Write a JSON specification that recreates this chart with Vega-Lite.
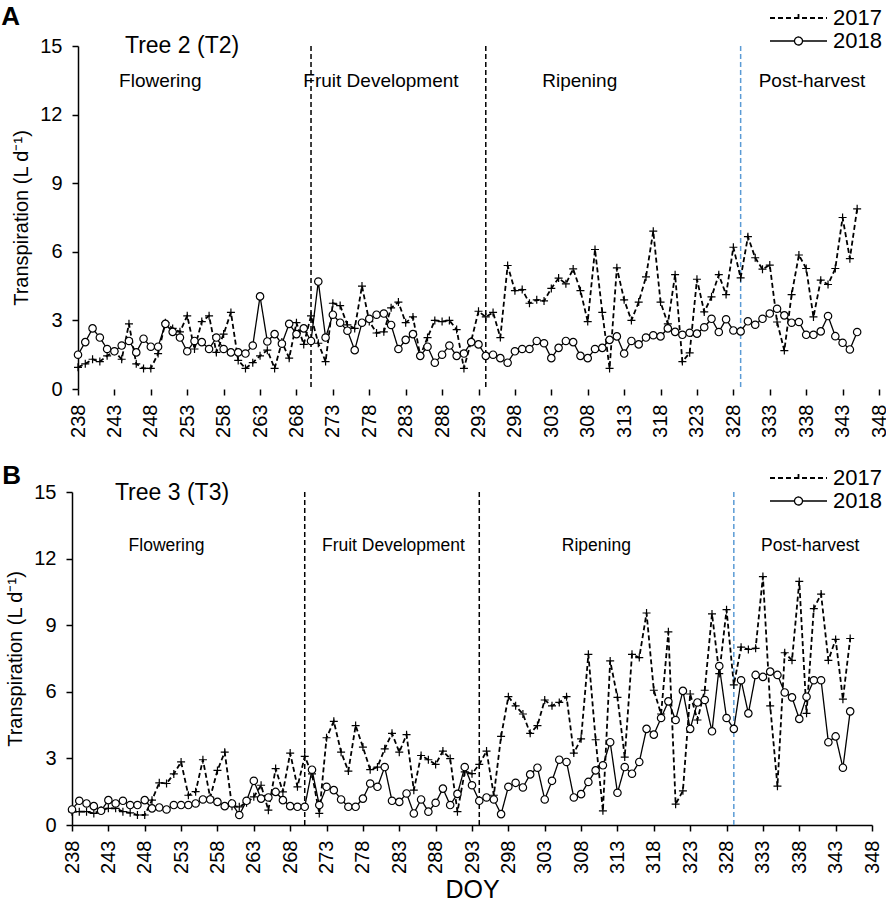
{
  "$schema": "https://vega.github.io/schema/vega-lite/v6.json",
  "background": "white",
  "padding": {"left": 1, "top": 3, "right": 4, "bottom": 4},
  "config": {
    "font": "Liberation Sans",
    "view": {"stroke": null},
    "axis": {
      "grid": false,
      "labelFont": "Liberation Sans",
      "labelFontSize": 20,
      "labelColor": "#000",
      "domainColor": "#000",
      "domainWidth": 1.5,
      "tickColor": "#000",
      "tickWidth": 1.5,
      "tickSize": 6,
      "titleFont": "Liberation Sans",
      "titleFontWeight": "normal",
      "titleColor": "#000"
    },
    "legend": {"labelFont": "Liberation Sans"}
  },
  "datasets": {
    "T2": [
      {"doy":238,"2017":0.95,"2018":1.5},{"doy":239,"2017":1.1,"2018":2.05},{"doy":240,"2017":1.3,"2018":2.65},{"doy":241,"2017":1.2,"2018":2.25},{"doy":242,"2017":1.45,"2018":1.75},{"doy":243,"2017":1.65,"2018":1.65},{"doy":244,"2017":1.3,"2018":1.9},{"doy":245,"2017":2.85,"2018":2.1},{"doy":246,"2017":1.1,"2018":1.6},{"doy":247,"2017":0.9,"2018":2.2},{"doy":248,"2017":0.9,"2018":1.85},{"doy":249,"2017":1.55,"2018":1.85},{"doy":250,"2017":2.9,"2018":2.85},{"doy":251,"2017":2.65,"2018":2.5},{"doy":252,"2017":2.5,"2018":2.25},{"doy":253,"2017":3.2,"2018":1.65},{"doy":254,"2017":1.75,"2018":2.1},{"doy":255,"2017":2.95,"2018":2.05},{"doy":256,"2017":3.2,"2018":1.75},{"doy":257,"2017":1.6,"2018":2.25},{"doy":258,"2017":2.4,"2018":1.75},{"doy":259,"2017":3.35,"2018":1.6},{"doy":260,"2017":1.25,"2018":1.6},{"doy":261,"2017":0.9,"2018":1.55},{"doy":262,"2017":1.15,"2018":1.9},{"doy":263,"2017":1.45,"2018":4.05},{"doy":264,"2017":1.7,"2018":2.08},{"doy":265,"2017":0.9,"2018":2.4},{"doy":266,"2017":2.05,"2018":1.98},{"doy":267,"2017":1.35,"2018":2.85},{"doy":268,"2017":2.9,"2018":2.4},{"doy":269,"2017":1.95,"2018":2.65},{"doy":270,"2017":3.2,"2018":2.1},{"doy":271,"2017":2.0,"2018":4.7},{"doy":272,"2017":1.2,"2018":2.25},{"doy":273,"2017":3.75,"2018":3.25},{"doy":274,"2017":3.65,"2018":2.9},{"doy":275,"2017":2.8,"2018":2.55},{"doy":276,"2017":2.65,"2018":1.7},{"doy":277,"2017":4.5,"2018":2.9},{"doy":278,"2017":2.95,"2018":3.07},{"doy":279,"2017":2.45,"2018":3.25},{"doy":280,"2017":2.5,"2018":3.3},{"doy":281,"2017":3.55,"2018":2.8},{"doy":282,"2017":3.8,"2018":1.75},{"doy":283,"2017":2.9,"2018":2.15},{"doy":284,"2017":3.15,"2018":2.4},{"doy":285,"2017":1.45,"2018":1.45},{"doy":286,"2017":2.25,"2018":1.85},{"doy":287,"2017":3.0,"2018":1.15},{"doy":288,"2017":2.95,"2018":1.5},{"doy":289,"2017":3.0,"2018":1.9},{"doy":290,"2017":2.6,"2018":1.45},{"doy":291,"2017":0.9,"2018":1.55},{"doy":292,"2017":2.1,"2018":2.05},{"doy":293,"2017":3.4,"2018":1.95},{"doy":294,"2017":3.15,"2018":1.45},{"doy":295,"2017":3.35,"2018":1.5},{"doy":296,"2017":2.25,"2018":1.35},{"doy":297,"2017":5.4,"2018":1.15},{"doy":298,"2017":4.3,"2018":1.65},{"doy":299,"2017":4.35,"2018":1.75},{"doy":300,"2017":3.75,"2018":1.75},{"doy":301,"2017":3.9,"2018":2.1},{"doy":302,"2017":3.85,"2018":2.0},{"doy":303,"2017":4.4,"2018":1.35},{"doy":304,"2017":4.85,"2018":1.8},{"doy":305,"2017":4.6,"2018":2.1},{"doy":306,"2017":5.25,"2018":2.05},{"doy":307,"2017":4.3,"2018":1.45},{"doy":308,"2017":2.95,"2018":1.35},{"doy":309,"2017":6.1,"2018":1.75},{"doy":310,"2017":3.35,"2018":1.8},{"doy":311,"2017":0.9,"2018":2.15},{"doy":312,"2017":5.3,"2018":2.3},{"doy":313,"2017":3.9,"2018":1.55},{"doy":314,"2017":3.0,"2018":2.1},{"doy":315,"2017":3.8,"2018":1.95},{"doy":316,"2017":4.9,"2018":2.25},{"doy":317,"2017":6.9,"2018":2.35},{"doy":318,"2017":3.8,"2018":2.3},{"doy":319,"2017":2.85,"2018":2.65},{"doy":320,"2017":5.0,"2018":2.5},{"doy":321,"2017":1.2,"2018":2.37},{"doy":322,"2017":1.58,"2018":2.46},{"doy":323,"2017":4.8,"2018":2.42},{"doy":324,"2017":3.37,"2018":2.7},{"doy":325,"2017":4.03,"2018":3.07},{"doy":326,"2017":5.0,"2018":2.49},{"doy":327,"2017":4.13,"2018":3.05},{"doy":328,"2017":6.2,"2018":2.56},{"doy":329,"2017":4.86,"2018":2.52},{"doy":330,"2017":6.66,"2018":2.96},{"doy":331,"2017":5.74,"2018":2.81},{"doy":332,"2017":5.24,"2018":3.07},{"doy":333,"2017":5.42,"2018":3.3},{"doy":334,"2017":2.93,"2018":3.51},{"doy":335,"2017":1.68,"2018":3.22},{"doy":336,"2017":4.13,"2018":2.9},{"doy":337,"2017":5.86,"2018":2.93},{"doy":338,"2017":5.27,"2018":2.37},{"doy":339,"2017":3.15,"2018":2.37},{"doy":340,"2017":4.76,"2018":2.52},{"doy":341,"2017":4.57,"2018":3.19},{"doy":342,"2017":5.27,"2018":2.31},{"doy":343,"2017":7.5,"2018":2.02},{"doy":344,"2017":5.7,"2018":1.73},{"doy":345,"2017":7.88,"2018":2.49}
    ],
    "T3": [
      {"doy":238,"2017":0.6,"2018":0.7},{"doy":239,"2017":0.6,"2018":1.09},{"doy":240,"2017":0.6,"2018":0.97},{"doy":241,"2017":0.52,"2018":0.85},{"doy":242,"2017":0.67,"2018":0.64},{"doy":243,"2017":0.75,"2018":1.12},{"doy":244,"2017":0.75,"2018":0.97},{"doy":245,"2017":0.6,"2018":1.09},{"doy":246,"2017":0.55,"2018":0.9},{"doy":247,"2017":0.45,"2018":0.9},{"doy":248,"2017":0.45,"2018":1.12},{"doy":249,"2017":1.12,"2018":0.75},{"doy":250,"2017":1.9,"2018":0.79},{"doy":251,"2017":1.87,"2018":0.7},{"doy":252,"2017":2.3,"2018":0.9},{"doy":253,"2017":2.84,"2018":0.9},{"doy":254,"2017":1.34,"2018":0.9},{"doy":255,"2017":1.5,"2018":0.97},{"doy":256,"2017":2.94,"2018":1.15},{"doy":257,"2017":1.24,"2018":1.15},{"doy":258,"2017":2.46,"2018":1.04},{"doy":259,"2017":3.28,"2018":0.85},{"doy":260,"2017":0.85,"2018":0.97},{"doy":261,"2017":0.82,"2018":0.45},{"doy":262,"2017":1.0,"2018":1.09},{"doy":263,"2017":1.27,"2018":1.99},{"doy":264,"2017":1.79,"2018":1.19},{"doy":265,"2017":0.67,"2018":1.24},{"doy":266,"2017":2.54,"2018":1.49},{"doy":267,"2017":1.49,"2018":1.12},{"doy":268,"2017":3.24,"2018":0.85},{"doy":269,"2017":1.72,"2018":0.82},{"doy":270,"2017":3.09,"2018":0.82},{"doy":271,"2017":2.3,"2018":2.49},{"doy":272,"2017":0.52,"2018":0.9},{"doy":273,"2017":3.93,"2018":1.72},{"doy":274,"2017":4.67,"2018":1.57},{"doy":275,"2017":3.28,"2018":1.15},{"doy":276,"2017":2.43,"2018":0.82},{"doy":277,"2017":4.48,"2018":0.82},{"doy":278,"2017":3.51,"2018":1.19},{"doy":279,"2017":2.49,"2018":1.87},{"doy":280,"2017":2.61,"2018":1.72},{"doy":281,"2017":3.43,"2018":2.61},{"doy":282,"2017":4.13,"2018":1.09},{"doy":283,"2017":3.28,"2018":1.04},{"doy":284,"2017":4.07,"2018":1.42},{"doy":285,"2017":1.57,"2018":0.52},{"doy":286,"2017":3.13,"2018":1.15},{"doy":287,"2017":2.94,"2018":0.6},{"doy":288,"2017":2.73,"2018":1.0},{"doy":289,"2017":3.33,"2018":1.64},{"doy":290,"2017":2.99,"2018":0.9},{"doy":291,"2017":0.6,"2018":1.4},{"doy":292,"2017":2.39,"2018":2.61},{"doy":293,"2017":2.31,"2018":1.79},{"doy":294,"2017":2.73,"2018":1.09},{"doy":295,"2017":3.33,"2018":1.24},{"doy":296,"2017":1.34,"2018":1.15},{"doy":297,"2017":3.99,"2018":0.49},{"doy":298,"2017":5.78,"2018":1.72},{"doy":299,"2017":5.37,"2018":1.9},{"doy":300,"2017":5.0,"2018":1.69},{"doy":301,"2017":4.13,"2018":2.28},{"doy":302,"2017":4.48,"2018":2.58},{"doy":303,"2017":5.63,"2018":1.15},{"doy":304,"2017":5.37,"2018":1.99},{"doy":305,"2017":5.52,"2018":2.94},{"doy":306,"2017":5.78,"2018":2.84},{"doy":307,"2017":3.24,"2018":1.24},{"doy":308,"2017":3.88,"2018":1.39},{"doy":309,"2017":7.69,"2018":1.94},{"doy":310,"2017":3.84,"2018":2.46},{"doy":311,"2017":0.64,"2018":2.69},{"doy":312,"2017":7.39,"2018":3.73},{"doy":313,"2017":5.75,"2018":1.45},{"doy":314,"2017":3.06,"2018":2.61},{"doy":315,"2017":7.69,"2018":2.31},{"doy":316,"2017":7.54,"2018":2.84},{"doy":317,"2017":9.55,"2018":4.33},{"doy":318,"2017":6.07,"2018":4.07},{"doy":319,"2017":5.0,"2018":4.82},{"doy":320,"2017":8.7,"2018":5.57},{"doy":321,"2017":0.94,"2018":4.73},{"doy":322,"2017":1.54,"2018":6.04},{"doy":323,"2017":5.9,"2018":4.33},{"doy":324,"2017":4.73,"2018":5.52},{"doy":325,"2017":6.07,"2018":5.63},{"doy":326,"2017":9.51,"2018":4.22},{"doy":327,"2017":6.82,"2018":7.16},{"doy":328,"2017":9.7,"2018":4.82},{"doy":329,"2017":6.31,"2018":4.33},{"doy":330,"2017":8.01,"2018":6.52},{"doy":331,"2017":7.91,"2018":5.03},{"doy":332,"2017":7.96,"2018":6.76},{"doy":333,"2017":11.19,"2018":6.67},{"doy":334,"2017":5.37,"2018":6.91},{"doy":335,"2017":1.75,"2018":6.76},{"doy":336,"2017":7.76,"2018":5.97},{"doy":337,"2017":7.42,"2018":5.75},{"doy":338,"2017":10.97,"2018":4.78},{"doy":339,"2017":5.03,"2018":5.78},{"doy":340,"2017":9.75,"2018":6.52},{"doy":341,"2017":10.4,"2018":6.52},{"doy":342,"2017":7.42,"2018":3.73},{"doy":343,"2017":8.36,"2018":3.99},{"doy":344,"2017":5.67,"2018":2.58},{"doy":345,"2017":8.4,"2018":5.12}
    ]
  },
  "concat": [
    {
      "width": 807,
      "height": 343,
      "encoding": {
        "x": {"field": "doy", "type": "quantitative", "scale": {"domain": [237.176, 348], "nice": false, "zero": false},
              "axis": {"values": [238,243,248,253,258,263,268,273,278,283,288,293,298,303,308,313,318,323,328,333,338,343,348], "labelAngle": -90, "labelPadding": 9, "title": null, "domain": false}},
        "y": {"field": "v", "type": "quantitative", "scale": {"domain": [0, 15], "nice": false},
              "axis": {"values": [0,3,6,9,12,15], "offset": -6, "labelPadding": 10, "title": "Transpiration (L d\u207b\u00b9)", "titleFontSize": 20, "titlePadding": 8}}
      },
      "layer": [
        {
          "mark": {"type": "rule", "color": "#000", "strokeWidth": 1.5},
          "encoding": {"x": {"datum": 238}, "x2": {"datum": 348}, "y": {"datum": 0}}
        },
        {
          "data": {"values": [{"doy": 270}, {"doy": 294}]},
          "mark": {"type": "rule", "color": "#000", "strokeWidth": 1.5, "strokeDash": [5, 3]},
          "encoding": {"x": {"field": "doy", "type": "quantitative"}, "y": null}
        },
        {
          "data": {"values": [{"doy": 329}]},
          "mark": {"type": "rule", "color": "#5b9bd5", "strokeWidth": 1.5, "strokeDash": [5, 3]},
          "encoding": {"x": {"field": "doy", "type": "quantitative"}, "y": null}
        },
        {
          "data": {"name": "T2"},
          "transform": [{"fold": ["2017", "2018"], "as": ["year", "v"]}],
          "mark": {"type": "line", "color": "#000"},
          "encoding": {
            "strokeDash": {"field": "year", "type": "nominal", "scale": {"domain": ["2017", "2018"], "range": [[5, 3], [1, 0]]},
              "legend": {"title": null, "orient": "none", "legendX": 734, "legendY": -39, "padding": 0, "labelFontSize": 22, "labelColor": "#000", "labelOffset": 5, "rowPadding": 1, "symbolSize": 100, "symbolStrokeColor": "#000", "symbolFillColor": "white", "symbolStrokeWidth": 1.5}},
            "strokeWidth": {"field": "year", "type": "nominal", "scale": {"domain": ["2017", "2018"], "range": [1.8, 1.3]}, "legend": null}
          }
        },
        {
          "data": {"name": "T2"},
          "transform": [{"filter": "datum.doy < 0"}, {"fold": ["2017", "2018"], "as": ["year", "v"]}],
          "mark": {"type": "point", "stroke": "#000", "fill": "white"},
          "encoding": {
            "shape": {"field": "year", "type": "nominal",
              "scale": {"domain": ["2017", "2018"], "range": ["M-9.4,0L2,0M-3.7,-0.8L-3.7,0.8", "M-9.4,0L-4.5,0M-2.9,0L2,0M-2.9,0A0.8,0.8,0,1,1,-4.5,0A0.8,0.8,0,1,1,-2.9,0"]},
              "legend": null}
          }
        },
        {
          "data": {"name": "T2"},
          "transform": [{"fold": ["2017"], "as": ["year", "v"]}],
          "mark": {"type": "point", "shape": "M-1,0L1,0M0,-1L0,1", "size": 64, "stroke": "#000", "strokeWidth": 1.2, "opacity": 1}
        },
        {
          "data": {"name": "T2"},
          "transform": [{"fold": ["2018"], "as": ["year", "v"]}],
          "mark": {"type": "point", "shape": "circle", "size": 55, "stroke": "#000", "fill": "white", "strokeWidth": 1.2, "opacity": 1}
        },
        {
          "data": {"values": [
            {"doy": 249.3, "v": 13.47, "label": "Flowering"},
            {"doy": 279.6, "v": 13.47, "label": "Fruit Development"},
            {"doy": 306.9, "v": 13.47, "label": "Ripening"},
            {"doy": 338.8, "v": 13.47, "label": "Post-harvest"}
          ]},
          "mark": {"type": "text", "fontSize": 19, "color": "#000", "align": "center", "baseline": "middle"},
          "encoding": {"text": {"field": "label"}}
        },
        {
          "data": {"values": [{"doy": 244.45, "v": 15.0, "label": "Tree 2 (T2)"}]},
          "mark": {"type": "text", "fontSize": 23, "color": "#000", "align": "left", "baseline": "middle"},
          "encoding": {"text": {"field": "label"}}
        },
        {
          "data": {"values": [{"doy": 227.45, "v": 15.94, "label": "A"}]},
          "mark": {"type": "text", "fontSize": 26, "fontWeight": "bold", "color": "#000", "align": "left", "baseline": "alphabetic"},
          "encoding": {"text": {"field": "label"}}
        }
      ]
    },
    {
      "width": 800,
      "height": 333,
      "encoding": {
        "x": {"field": "doy", "type": "quantitative", "scale": {"domain": [238, 348], "nice": false, "zero": false},
              "axis": {"values": [238,243,248,253,258,263,268,273,278,283,288,293,298,303,308,313,318,323,328,333,338,343,348], "labelAngle": -90, "labelPadding": 9, "title": "DOY", "titleFontSize": 25, "titlePadding": 4}},
        "y": {"field": "v", "type": "quantitative", "scale": {"domain": [0, 15], "nice": false},
              "axis": {"values": [0,3,6,9,12,15], "labelPadding": 10, "title": "Transpiration (L d\u207b\u00b9)", "titleFontSize": 20, "titlePadding": 8}}
      },
      "layer": [
        {
          "data": {"values": [{"doy": 270}, {"doy": 294}]},
          "mark": {"type": "rule", "color": "#000", "strokeWidth": 1.5, "strokeDash": [5, 3]},
          "encoding": {"x": {"field": "doy", "type": "quantitative"}, "y": null}
        },
        {
          "data": {"values": [{"doy": 329}]},
          "mark": {"type": "rule", "color": "#5b9bd5", "strokeWidth": 1.5, "strokeDash": [5, 3]},
          "encoding": {"x": {"field": "doy", "type": "quantitative"}, "y": null}
        },
        {
          "data": {"name": "T3"},
          "transform": [{"fold": ["2017", "2018"], "as": ["year", "v"]}],
          "mark": {"type": "line", "color": "#000"},
          "encoding": {
            "strokeDash": {"field": "year", "type": "nominal", "scale": {"domain": ["2017", "2018"], "range": [[5, 3], [1, 0]]},
              "legend": {"title": null, "orient": "none", "legendX": 734, "legendY": -25, "padding": 0, "labelFontSize": 22, "labelColor": "#000", "labelOffset": 5, "rowPadding": 1, "symbolSize": 100, "symbolStrokeColor": "#000", "symbolFillColor": "white", "symbolStrokeWidth": 1.5}},
            "strokeWidth": {"field": "year", "type": "nominal", "scale": {"domain": ["2017", "2018"], "range": [1.8, 1.3]}, "legend": null}
          }
        },
        {
          "data": {"name": "T3"},
          "transform": [{"filter": "datum.doy < 0"}, {"fold": ["2017", "2018"], "as": ["year", "v"]}],
          "mark": {"type": "point", "stroke": "#000", "fill": "white"},
          "encoding": {
            "shape": {"field": "year", "type": "nominal",
              "scale": {"domain": ["2017", "2018"], "range": ["M-9.4,0L2,0M-3.7,-0.8L-3.7,0.8", "M-9.4,0L-4.5,0M-2.9,0L2,0M-2.9,0A0.8,0.8,0,1,1,-4.5,0A0.8,0.8,0,1,1,-2.9,0"]},
              "legend": null}
          }
        },
        {
          "data": {"name": "T3"},
          "transform": [{"fold": ["2017"], "as": ["year", "v"]}],
          "mark": {"type": "point", "shape": "M-1,0L1,0M0,-1L0,1", "size": 64, "stroke": "#000", "strokeWidth": 1.2, "opacity": 1}
        },
        {
          "data": {"name": "T3"},
          "transform": [{"fold": ["2018"], "as": ["year", "v"]}],
          "mark": {"type": "point", "shape": "circle", "size": 55, "stroke": "#000", "fill": "white", "strokeWidth": 1.2, "opacity": 1}
        },
        {
          "data": {"values": [
            {"doy": 251.0, "v": 12.57, "label": "Flowering"},
            {"doy": 282.2, "v": 12.57, "label": "Fruit Development"},
            {"doy": 310.1, "v": 12.57, "label": "Ripening"},
            {"doy": 339.5, "v": 12.57, "label": "Post-harvest"}
          ]},
          "mark": {"type": "text", "fontSize": 17.5, "color": "#000", "align": "center", "baseline": "middle"},
          "encoding": {"text": {"field": "label"}}
        },
        {
          "data": {"values": [{"doy": 243.9, "v": 14.95, "label": "Tree 3 (T3)"}]},
          "mark": {"type": "text", "fontSize": 23, "color": "#000", "align": "left", "baseline": "middle"},
          "encoding": {"text": {"field": "label"}}
        },
        {
          "data": {"values": [{"doy": 228.4, "v": 15.36, "label": "B"}]},
          "mark": {"type": "text", "fontSize": 26, "fontWeight": "bold", "color": "#000", "align": "left", "baseline": "alphabetic"},
          "encoding": {"text": {"field": "label"}}
        }
      ]
    }
  ],
  "columns": 1,
  "align": "none",
  "spacing": 25,
  "resolve": {
    "scale": {"strokeDash": "independent", "strokeWidth": "independent", "shape": "independent"},
    "legend": {"strokeDash": "independent", "shape": "independent"}
  }
}
